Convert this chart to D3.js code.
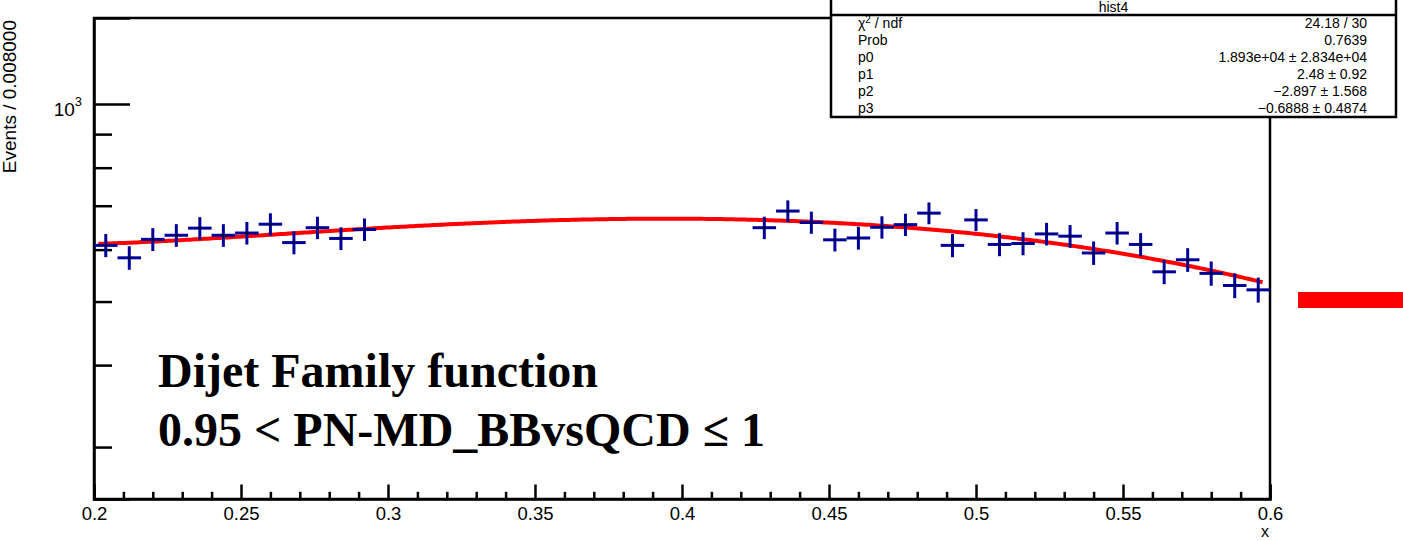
<!DOCTYPE html>
<html><head><meta charset="utf-8">
<script src="https://cdn.jsdelivr.net/npm/d3@7"></script>
<style>body{margin:0;background:#fff}svg{display:block}</style>
</head><body>
<svg id="c" width="1403" height="541"></svg>
<script>
// ---- data ----
const binWidth = 0.008;
const binCentersLow = [0.204,0.212,0.220,0.228,0.236,0.244,0.252,0.260,0.268,0.276,0.284,0.292];
const countsLow = [609,583,622,631,647,631,636,656,615,648,624,644];
const binCentersHigh = [0.428,0.436,0.444,0.452,0.460,0.468,0.476,0.484,0.492,0.500,0.508,0.516,0.524,0.532,0.540,0.548,0.556,0.564,0.572,0.580,0.588,0.596];
const countsHigh = [648,687,660,621,625,649,655,682,609,666,611,613,634,629,593,636,611,555,579,552,529,521];
const fitParams = [1.893e4, 2.48, -2.897, -0.6888]; // p0..p3 of dijet function
const xMajorTicks = [0.2,0.25,0.3,0.35,0.4,0.45,0.5,0.55,0.6];
const xTickLabels = ["0.2","0.25","0.3","0.35","0.4","0.45","0.5","0.55","0.6"];
const xMinorTicks = [0.21,0.22,0.23,0.24,0.26,0.27,0.28,0.29,0.31,0.32,0.33,0.34,0.36,0.37,0.38,0.39,0.41,0.42,0.43,0.44,0.46,0.47,0.48,0.49,0.51,0.52,0.53,0.54,0.56,0.57,0.58,0.59];
const yMajorTicks = [1000];
const yMinorTicks = [300,400,500,600,700,800,900];
const statsLabels = ["χ", "Prob", "p0", "p1", "p2", "p3"];
const statsValues = ["24.18 / 30", "0.7639", "1.893e+04 ± 2.834e+04", "2.48 ± 0.92", "−2.897 ± 1.568", "−0.6888 ± 0.4874"];

// ---- layout ----
const L = 94, R = 1270, T = 18, B = 499;
const svg = d3.select("#c");
const x = d3.scaleLinear().domain([0.2, 0.6]).range([L, R]);
const y = d3.scaleLog().domain([250, 1353]).range([B, T]);
const font = "'Liberation Sans', Arial, sans-serif";
const navy = "#000099";

// frame
svg.append("rect").attr("x", L).attr("y", T).attr("width", R - L).attr("height", B - T)
  .attr("fill", "none").attr("stroke", "#000").attr("stroke-width", 2.5);

// x axis
const gx = svg.append("g").attr("transform", `translate(0,${B})`)
  .call(d3.axisBottom(x).tickValues(xMajorTicks).tickSize(-14.5).tickPadding(8)
    .tickFormat((d, i) => xTickLabels[i]));
gx.select(".domain").attr("stroke-width", 2.5);
gx.selectAll(".tick line").attr("stroke-width", 2.5);
gx.selectAll("text").attr("font-family", font).attr("font-size", 18.5).attr("fill", "#000");
const gxm = svg.append("g").attr("transform", `translate(0,${B})`)
  .call(d3.axisBottom(x).tickValues(xMinorTicks).tickSize(-7.2).tickFormat(""));
gxm.select(".domain").remove();
gxm.selectAll(".tick line").attr("stroke-width", 2.5);

// y axis
const gy = svg.append("g").attr("transform", `translate(${L},0)`)
  .call(d3.axisLeft(y).tickValues(yMajorTicks).tickSize(-36).tickPadding(12).tickFormat(() => ""));
gy.select(".domain").attr("stroke-width", 2.5);
gy.selectAll(".tick line").attr("stroke-width", 2.5);
gy.selectAll(".tick text").attr("font-family", font).attr("font-size", 19).attr("fill", "#000")
  .attr("dy", "0.6em")
  .each(function () {
    const t = d3.select(this);
    t.append("tspan").text("10");
    t.append("tspan").attr("font-size", 13).attr("dy", "-0.75em").text("3");
  });
const gym = svg.append("g").attr("transform", `translate(${L},0)`)
  .call(d3.axisLeft(y).tickValues(yMinorTicks).tickSize(-18).tickFormat(""));
gym.select(".domain").remove();
gym.selectAll(".tick line").attr("stroke-width", 2.5);

// axis titles
svg.append("text").attr("x", R - 1).attr("y", 537).attr("text-anchor", "end")
  .attr("font-family", font).attr("font-size", 16).text("x");
svg.append("text").attr("transform", `translate(16,${T + 2}) rotate(-90)`).attr("text-anchor", "end")
  .attr("font-family", font).attr("font-size", 19).text("Events / 0.008000");

// fit curve
const [p0, p1, p2, p3] = fitParams;
const f = v => p0 * Math.pow(1 - v, p1) / Math.pow(v, p2 + p3 * Math.log(v));
const curveX = d3.range(0.2015, 0.5976, 0.001);
svg.append("path").datum(curveX)
  .attr("d", d3.line().x(d => x(d)).y(d => y(f(d))))
  .attr("fill", "none").attr("stroke", "#ff0000").attr("stroke-width", 4);

// data points
const pts = binCentersLow.map((c, i) => ({c, n: countsLow[i]}))
  .concat(binCentersHigh.map((c, i) => ({c, n: countsHigh[i]})));
const gp = svg.append("g").attr("stroke", navy).attr("stroke-width", 3);
gp.selectAll(".v").data(pts).join("line")
  .attr("x1", d => x(d.c)).attr("x2", d => x(d.c))
  .attr("y1", d => y(d.n + Math.sqrt(d.n))).attr("y2", d => y(d.n - Math.sqrt(d.n)));
gp.selectAll(".h").data(pts).join("line")
  .attr("x1", d => x(d.c - binWidth / 2)).attr("x2", d => x(d.c + binWidth / 2))
  .attr("y1", d => y(d.n)).attr("y2", d => y(d.n));
svg.append("g").selectAll("circle").data(pts).join("circle")
  .attr("cx", d => x(d.c)).attr("cy", d => y(d.n)).attr("r", 1.2).attr("fill", "#000");

// big label
const serif = "'Liberation Serif', 'Times New Roman', serif";
svg.append("text").attr("x", 158).attr("y", 387).attr("font-family", serif).attr("font-weight", "bold")
  .attr("font-size", 48).text("Dijet Family function");
svg.append("text").attr("x", 158).attr("y", 446).attr("font-family", serif).attr("font-weight", "bold")
  .attr("font-size", 48).text("0.95 < PN-MD_BBvsQCD ≤ 1");

// red bar (legend fragment)
svg.append("rect").attr("x", 1298).attr("y", 292).attr("width", 105).attr("height", 16).attr("fill", "#ff0000");

// stats box
const sx0 = 831, sx1 = 1396, sy1 = 117;
svg.append("rect").attr("x", sx0).attr("y", -3).attr("width", sx1 - sx0).attr("height", sy1 + 3)
  .attr("fill", "#fff").attr("stroke", "#000").attr("stroke-width", 2.5);
svg.append("line").attr("x1", sx0).attr("x2", sx1).attr("y1", 15).attr("y2", 15)
  .attr("stroke", "#000").attr("stroke-width", 2.5);
svg.append("text").attr("x", (sx0 + sx1) / 2).attr("y", 12).attr("text-anchor", "middle")
  .attr("font-family", font).attr("font-size", 14).text("hist4");
statsLabels.forEach((lab, i) => {
  const t = svg.append("text").attr("x", 858).attr("y", 28 + 17 * i)
    .attr("font-family", font).attr("font-size", 14);
  if (i === 0) {
    t.append("tspan").text("χ");
    t.append("tspan").attr("font-size", 10).attr("dy", "-0.5em").text("2");
    t.append("tspan").attr("dy", "0.35em").text(" / ndf");
  } else t.text(lab);
  svg.append("text").attr("x", 1367).attr("y", 28 + 17 * i).attr("text-anchor", "end")
    .attr("font-family", font).attr("font-size", 14).text(statsValues[i]);
});
</script>
</body></html>
